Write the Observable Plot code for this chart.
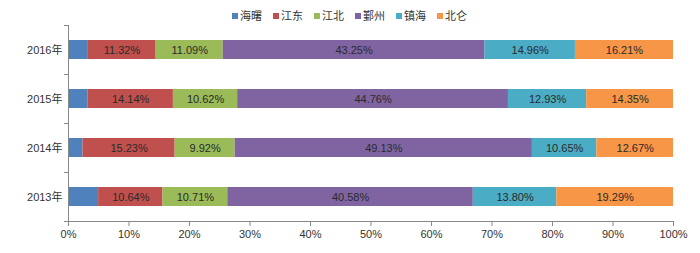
<!DOCTYPE html>
<html>
<head>
<meta charset="utf-8">
<script src="https://cdn.jsdelivr.net/npm/d3@7"></script>
<script src="https://cdn.jsdelivr.net/npm/@observablehq/plot@0.6"></script>
<style>
  html, body { margin: 0; padding: 0; background: #fff; }
  body { width: 700px; height: 253px; overflow: hidden; font-family: "Liberation Sans", "Noto Sans CJK SC", sans-serif; }
  #legend { height: 21px; padding-top: 4px; display: flex; justify-content: center; align-items: center; font-size: 11px; color: #333; padding-left: 10px; }
  #legend .item { display: flex; align-items: center; margin-right: 11px; }
  #legend .sw { width: 6px; height: 6px; margin-right: 2px; margin-top: 3px; }
</style>
</head>
<body>
<div id="legend"></div>
<div id="chart"></div>
<script>
const years = ["2016年", "2015年", "2014年", "2013年"];
const series = ["海曙", "江东", "江北", "鄞州", "镇海", "北仑"];
const colors = ["#4F81BD", "#C0504D", "#9BBB59", "#8064A2", "#4BACC6", "#F79646"];
const haishu = [3.17, 3.20, 2.40, 4.98];
const jiangdong = [11.32, 14.14, 15.23, 10.64];
const jiangbei = [11.09, 10.62, 9.92, 10.71];
const yinzhou = [43.25, 44.76, 49.13, 40.58];
const zhenhai = [14.96, 12.93, 10.65, 13.80];
const beilun = [16.21, 14.35, 12.67, 19.29];
const xTicks = [0, 10, 20, 30, 40, 50, 60, 70, 80, 90, 100];

const seriesValues = [haishu, jiangdong, jiangbei, yinzhou, zhenhai, beilun];
const data = [];
years.forEach((y, i) => {
  series.forEach((s, j) => {
    data.push({year: y, series: s, value: seriesValues[j][i], labeled: s !== "海曙"});
  });
});

// legend
const lg = document.getElementById("legend");
series.forEach((s, j) => {
  const it = document.createElement("div");
  it.className = "item";
  it.innerHTML = `<span class="sw" style="background:${colors[j]}"></span><span>${s}</span>`;
  lg.appendChild(it);
});

const W = 700, H = 228, mL = 68, mR = 27, mT = 0, mB = 32;
const chart = Plot.plot({
  width: W, height: H,
  marginLeft: mL, marginRight: mR, marginTop: mT, marginBottom: mB,
  style: {fontFamily: '"Liberation Sans", "Noto Sans CJK SC", sans-serif', fontSize: "11px", color: "#333", background: "#fff"},
  x: {domain: [0, 100], label: null},
  y: {domain: years, paddingInner: 0.61, paddingOuter: 0.305, label: null},
  color: {domain: series, range: colors},
  marks: [
    Plot.barX(data, Plot.stackX({x: "value", y: "year", fill: "series", z: "series", order: series})),
    Plot.text(data, Plot.stackX({x: "value", y: "year", z: "series", order: series,
      text: d => d.labeled ? d.value.toFixed(2) + "%" : "", fill: "#2a2a2a", fontSize: 11})),
    Plot.axisX({ticks: xTicks, tickFormat: d => d + "%", tickSize: 5, tickPadding: 4, stroke: "#888", color: "#333", fontSize: 11, label: null}),
    Plot.axisY({tickSize: 0, tickPadding: 6, color: "#333", fontSize: 11, label: null})
  ]
});
document.getElementById("chart").appendChild(chart);

// axis lines and category separators via the library scales
const sx = chart.scale("x"), sy = chart.scale("y");
const svg = d3.select(chart);
const x0 = sx.apply(0), x1 = sx.apply(100);
const yTop = mT, yBot = H - mB;
const g = svg.append("g").attr("stroke", "#888").attr("stroke-width", 1).attr("shape-rendering", "crispEdges");
g.append("line").attr("x1", x0).attr("x2", x0).attr("y1", yTop).attr("y2", yBot);
g.append("line").attr("x1", x0).attr("x2", x1).attr("y1", yBot).attr("y2", yBot);
const gap = (sy.step - sy.bandwidth) / 2;
const bounds = years.map(y => sy.apply(y) - gap).concat([sy.apply(years[years.length - 1]) + sy.bandwidth + gap]);
bounds.forEach(b => {
  g.append("line").attr("x1", x0 - 4).attr("x2", x0).attr("y1", b).attr("y2", b);
});
</script>
</body>
</html>
